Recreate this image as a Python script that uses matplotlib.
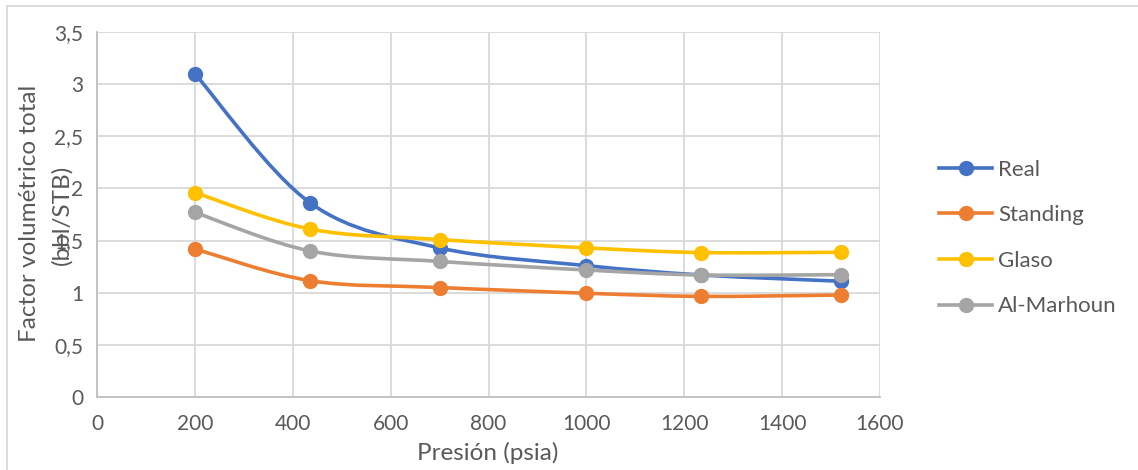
import numpy as np
import matplotlib.pyplot as plt
from matplotlib.path import Path
from matplotlib.patches import PathPatch
from matplotlib.lines import Line2D
from matplotlib.ticker import FuncFormatter

plt.rcParams['font.family'] = ['Lato', 'DejaVu Sans']

presion = [200, 436, 700, 1000, 1235, 1520]
real = [3.10, 1.86, 1.43, 1.26, 1.17, 1.11]
standing = [1.42, 1.115, 1.05, 0.995, 0.965, 0.978]
glaso = [1.96, 1.61, 1.51, 1.43, 1.385, 1.388]
al_marhoun = [1.77, 1.40, 1.30, 1.218, 1.17, 1.173]

series = [('Real', real, '#4472C4'),
          ('Standing', standing, '#ED7D31'),
          ('Glaso', glaso, '#FFC000'),
          ('Al-Marhoun', al_marhoun, '#A5A5A5')]

grey_txt = '#595959'
fs = 15

fig = plt.figure(figsize=(11.38, 4.70), dpi=100)
ax = fig.add_axes([97 / 1138, 73 / 470, 783 / 1138, 365 / 470])
ax.set_xlim(0, 1600)
ax.set_ylim(0, 3.5)

# pixel scale so the smoothing works like Excel's (on screen, not on data)
sx = 783 / 1600
sy = 365 / 3.5


def smooth_path(xs, ys):
    p = np.column_stack([np.array(xs) * sx, np.array(ys) * sy])
    n = len(p)
    verts = [p[0]]
    codes = [Path.MOVETO]
    for i in range(n - 1):
        p0 = p[i - 1] if i > 0 else p[i]
        p3 = p[i + 2] if i + 2 < n else p[i + 1]
        c1 = p[i] + (p[i + 1] - p0) / 6
        c2 = p[i + 1] - (p3 - p[i]) / 6
        verts += [c1, c2, p[i + 1]]
        codes += [Path.CURVE4] * 3
    verts = np.array(verts) / [sx, sy]
    return Path(verts, codes)


handles = []
for i, (name, vals, col) in enumerate(series):
    patch = PathPatch(smooth_path(presion, vals), facecolor='none', edgecolor=col,
                      lw=2.6, capstyle='round', joinstyle='round', zorder=3 + i)
    ax.add_patch(patch)
    ax.plot(presion, vals, 'o', color=col, ms=10, zorder=3 + i)
    handles.append(Line2D([], [], color=col, lw=2.6, marker='o', ms=10))

ax.set_xticks(np.arange(0, 1601, 200))
ax.set_yticks(np.arange(0, 3.51, 0.5))
ax.yaxis.set_major_formatter(FuncFormatter(lambda v, p: ('%g' % v).replace('.', ',')))
ax.grid(True, color='#D9D9D9', lw=1.3)
ax.set_axisbelow(True)
for s in ['top', 'right']:
    ax.spines[s].set_visible(False)
for s in ['left', 'bottom']:
    ax.spines[s].set_color('#BFBFBF')
    ax.spines[s].set_linewidth(1.3)
ax.tick_params(length=0, labelsize=fs, labelcolor=grey_txt, pad=10)
ax.tick_params(axis='x', pad=12)

fig.text(488 / 1138, 1 - 453 / 470, 'Presión (psia)', ha='center', va='center',
         fontsize=17.5, color=grey_txt)
fig.text(30 / 1138, 1 - 213 / 470, 'Factor volumétrico total', rotation=90,
         ha='center', va='center', fontsize=17.5, color=grey_txt)
fig.text(62 / 1138, 1 - 215 / 470, '(bbl/STB)', rotation=90,
         ha='center', va='center', fontsize=17.5, color=grey_txt)

fig.legend(handles, [s[0] for s in series], loc='center left',
           bbox_to_anchor=(919 / 1138, 1 - 238 / 470), frameon=False,
           fontsize=16, labelcolor=grey_txt, handlelength=2.4,
           handletextpad=0.25, labelspacing=1.15)

# chart area border (top and left edges visible)
fig.add_artist(Line2D([7 / 1138, 7 / 1138], [0, 1 - 6 / 470], color='#D9D9D9', lw=1.3))
fig.add_artist(Line2D([7 / 1138, 1], [1 - 6 / 470, 1 - 6 / 470], color='#D9D9D9', lw=1.3))

fig.savefig('out.png', dpi=100)
